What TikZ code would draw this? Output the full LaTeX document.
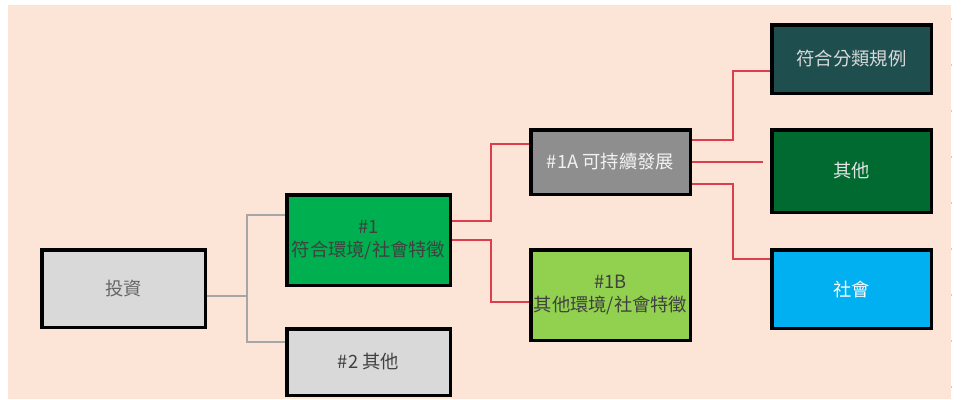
\documentclass[tikz,border=0pt]{standalone}
\usepackage{fontspec}
\setmainfont{Noto Sans CJK TC}
\definecolor{bgpeach}{RGB}{252,228,214}
\definecolor{boxgray}{RGB}{217,217,217}
\definecolor{midgray}{RGB}{142,142,142}
\definecolor{brightgreen}{RGB}{0,176,80}
\definecolor{limegreen}{RGB}{146,208,80}
\definecolor{darkteal}{RGB}{31,78,79}
\definecolor{darkgreen}{RGB}{0,106,49}
\definecolor{skyblue}{RGB}{0,176,240}
\definecolor{redline}{RGB}{220,62,78}
\definecolor{linegray}{RGB}{166,166,166}
\definecolor{txtdark}{RGB}{64,64,64}
\tikzset{
  box/.style={draw=black, line width=3.5pt, rectangle, align=center, inner sep=0pt,
    font=\fontsize{18.3}{23.5}\selectfont},
  grayconn/.style={draw=linegray, line width=2pt},
  redconn/.style={draw=redline, line width=2pt},
}
\begin{document}
\begin{tikzpicture}[x=1pt,y=-1pt]
\useasboundingbox (0,0) rectangle (974,399);
\fill[white] (0,0) rectangle (974,399);
\fill[bgpeach] (8,5) rectangle (951,399);
\draw[linegray!60, line width=0.8pt, dash pattern=on 2pt off 44pt] (951,18) -- (951,399);

\node[box, fill=boxgray, text=txtdark!80, minimum width=163.5pt, minimum height=77.5pt] (inv) at (123.5,288.5) {投資};
\node[box, fill=brightgreen, text=txtdark, minimum width=163.5pt, minimum height=90.5pt] (n1) at (368.5,240) {\#1\\符合環境/社會特徵};
\node[box, fill=boxgray, text=txtdark, minimum width=163.5pt, minimum height=66.5pt] (n2) at (368.5,362) {\#2 其他};
\node[box, fill=midgray, text=white!95!black, minimum width=159.5pt, minimum height=64.5pt] (n1a) at (610.5,162) {\#1A 可持續發展};
\node[box, fill=limegreen, text=txtdark, minimum width=159.5pt, minimum height=90.5pt] (n1b) at (610.5,295) {\#1B\\其他環境/社會特徵};
\node[box, fill=darkteal, text=boxgray, minimum width=159.5pt, minimum height=68.5pt] (tax) at (851.5,59) {符合分類規例};
\node[box, fill=darkgreen, text=white!90!black, minimum width=159.5pt, minimum height=82.5pt] (oth) at (851.5,171) {其他};
\node[box, fill=skyblue, text=white, minimum width=159.5pt, minimum height=78.5pt] (soc) at (851.5,289) {社會};

\coordinate (g) at (247,296);
\draw[grayconn, line width=2.5pt] (inv.east |- g) -- (g);
\draw[grayconn] (n1.west |- 0,215) -| (g) |- (n2.west |- 0,342);

\draw[redconn] (n1.east |- 0,221) -- (491,221) -- (491,144) -- (n1a.west |- 0,144);
\draw[redconn] (n1.east |- 0,240) -- (491,240) -- (491,302) -- (n1b.west |- 0,302);
\draw[redconn] (n1a.east |- 0,140) -- (733,140) -- (733,71) -- (tax.west |- 0,71);
\draw[redconn, shorten >=7pt] (n1a.east |- 0,162) -- (oth.west |- 0,162);
\draw[redconn] (n1a.east |- 0,184) -- (733,184) -- (733,259) -- (soc.west |- 0,259);
\end{tikzpicture}
\end{document}
